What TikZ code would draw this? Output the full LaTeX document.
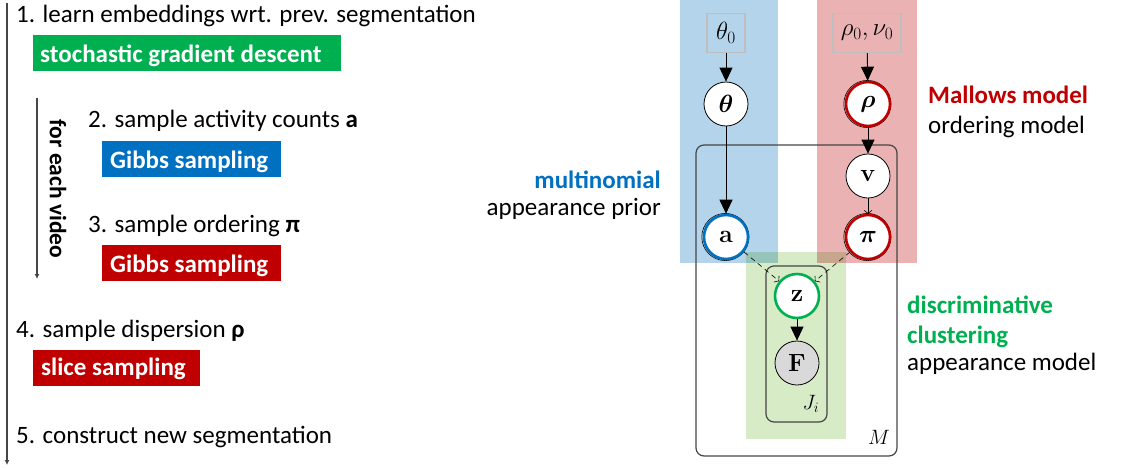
\documentclass[tikz,border=0pt]{standalone}
\usepackage{amsmath}
\usepackage[no-math]{fontspec}
\setmainfont{Carlito}
\usetikzlibrary{arrows.meta}

\definecolor{sgdgreen}{RGB}{0,176,80}
\definecolor{gibbsblue}{RGB}{0,112,192}
\definecolor{darkred}{RGB}{192,0,0}
\definecolor{colblue}{RGB}{180,212,236}
\definecolor{colred}{RGB}{234,178,178}
\definecolor{colgreen}{RGB}{215,236,198}
\definecolor{colbluegreen}{RGB}{150,196,184}
\definecolor{colredgreen}{RGB}{198,166,140}
\definecolor{linegray}{RGB}{70,70,70}
\definecolor{hypergray}{RGB}{190,190,190}
\definecolor{obsgray}{RGB}{217,217,217}

\tikzset{
  body/.style={font=\fontsize{25}{30}\selectfont, inner sep=0pt, anchor=base west},
  boldbody/.style={body, font=\fontsize{25}{30}\selectfont\bfseries},
  methodbox/.style={fill=#1, anchor=north west, inner sep=0pt, minimum height=36pt},
  methodtext/.style={boldbody, text=white},
  latent/.style={circle, draw=black, line width=0.8pt, fill=white, minimum size=44pt,
    inner sep=0pt, font=\fontsize{24}{28}\selectfont},
  ringed/.style={latent, draw=#1, line width=2.6pt},
  observed/.style={latent, fill=obsgray},
  hyper/.style={draw=hypergray, line width=1.4pt, minimum height=39pt, inner sep=0pt,
    font=\fontsize{24}{28}\selectfont},
  plate/.style={draw=linegray, line width=1.2pt, rounded corners=8pt, inner sep=0pt},
  platelabel/.style={font=\fontsize{20}{24}\selectfont, inner sep=0pt},
  bigarrow/.style={line width=0.9pt, -{Triangle[length=14pt,width=13pt]}},
  smallarrow/.style={line width=0.6pt, -{Straight Barb[length=3pt,width=8pt]}},
  dependence/.style={smallarrow, dash pattern=on 5pt off 4pt},
  timeline/.style={draw=linegray, line width=1.1pt, -{Latex[length=5pt,width=5pt]}},
}

\begin{document}
\begin{tikzpicture}[x=1pt,y=-1pt]
\useasboundingbox (0,0) rectangle (1129,469);

% ---------------- algorithm outline ----------------
\coordinate (outerTop) at (7,3);
\coordinate (outerBot) at (7,465);
\draw[timeline] (outerTop) -- (outerBot);
\coordinate (innerTop) at (37,98);
\coordinate (innerBot) at (37,279);
\draw[timeline] (innerTop) -- (innerBot);
\node[boldbody, font=\fontsize{23.5}{28}\selectfont\bfseries, anchor=center, rotate=-90]
  (loop) at (58,189) {for each video};

\node[body] (s1) at (16,22) {1. learn embeddings wrt. prev. segmentation};
\node[methodbox=sgdgreen, minimum width=308pt] (b1) at (33,35) {};
\node[methodtext] (m1) at (40,62) {stochastic gradient descent};

\node[body] (s2) at (88,127) {2. sample activity counts \textbf{a}};
\node[methodbox=gibbsblue, minimum width=179pt] (b2) at (102,141) {};
\node[methodtext] (m2) at (110,168) {Gibbs sampling};

\node[body] (s3) at (88,232) {3. sample ordering \textbf{π}};
\node[methodbox=darkred, minimum width=179pt] (b3) at (102,245) {};
\node[methodtext] (m3) at (110,272) {Gibbs sampling};

\node[body] (s4) at (16,337) {4. sample dispersion \textbf{ρ}};
\node[methodbox=darkred, minimum width=167pt] (b4) at (33,350) {};
\node[methodtext] (m4) at (41,375) {slice sampling};

\node[body] (s5) at (16,443) {5. construct new segmentation};

% ---------------- model components ----------------
\fill[colblue] (680,0) rectangle (778,263);
\fill[colred] (817,0) rectangle (917,263);
\fill[colgreen] (746,252) rectangle (846,439);
\fill[colbluegreen] (746,252) rectangle (778,263);
\fill[colredgreen] (817,252) rectangle (846,263);

\node[boldbody, anchor=base east, text=gibbsblue] (lmult) at (661,188) {multinomial};
\node[body, anchor=base east] (lmult2) at (661,215) {appearance prior};
\node[boldbody, text=darkred] (lmal) at (928,103) {Mallows model};
\node[body] (lmal2) at (928,133) {ordering model};
\node[boldbody, text=sgdgreen] (ldisc) at (907,313) {discriminative};
\node[boldbody, text=sgdgreen] (ldisc2) at (907,343) {clustering};
\node[body] (ldisc3) at (907,370) {appearance model};

% ---------------- plates ----------------
\node[plate, minimum width=201pt, minimum height=311pt] (plateM) at (796.5,300.5) {};
\node[platelabel] (labM) at (879,437) {$M$};
\node[plate, minimum width=61pt, minimum height=156pt] (plateJ) at (796.5,344) {};
\node[platelabel] (labJ) at (811,404) {$J_i$};

% ---------------- graphical model ----------------
\node[hyper, minimum width=38pt] (theta0) at (726,33) {$\theta_0$};
\node[hyper, minimum width=68pt] (rho0) at (867,33) {$\rho_0,\nu_0$};

\node[latent] (theta) at (726,104) {$\boldsymbol{\theta}$};
\draw[line width=0.6pt] (867.4,104) circle (23.6pt);
\node[ringed=darkred] (rho) at (868,104) {$\boldsymbol{\rho}$};
\node[latent] (v) at (868,176) {$\mathbf{v}$};
\draw[line width=0.6pt] (725.4,237) circle (23.6pt);
\node[ringed=gibbsblue] (a) at (726,237) {$\mathbf{a}$};
\draw[line width=0.6pt] (867.4,237) circle (23.6pt);
\node[ringed=darkred] (pi) at (868,237) {$\boldsymbol{\pi}$};
\node[ringed=sgdgreen] (z) at (797,296) {$\mathbf{z}$};
\node[observed] (F) at (797,363) {$\mathbf{F}$};

\draw[bigarrow] (theta0) -- (theta);
\draw[bigarrow] (rho0) -- (rho);
\draw[bigarrow] (theta) -- (a);
\draw[bigarrow] (rho) -- (v);
\draw[smallarrow] (v) -- (pi);
\draw[dependence] (a) -- (z);
\draw[dependence] (pi) -- (z);
\draw[bigarrow] (z) -- (F);
\end{tikzpicture}
\end{document}
